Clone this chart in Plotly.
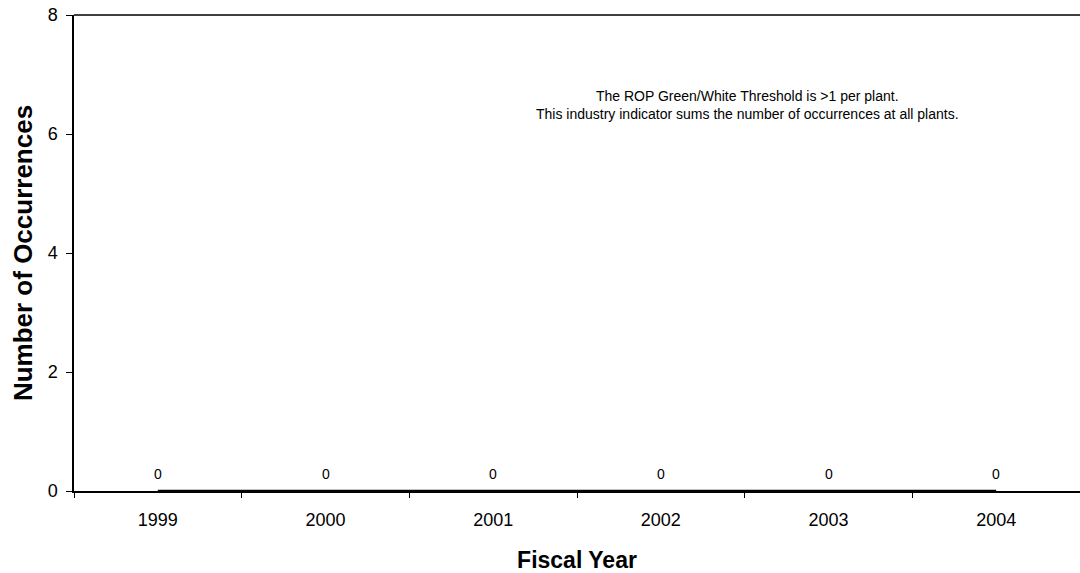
import plotly.graph_objects as go

years = ["1999", "2000", "2001", "2002", "2003", "2004"]
occurrences = [0, 0, 0, 0, 0, 0]
y_ticks = [0, 2, 4, 6, 8]
note_lines = ["The ROP Green/White Threshold is >1 per plant.",
              "This industry indicator sums the number of occurrences at all plants."]

FONT = "Liberation Sans, Arial"

fig = go.Figure()
fig.add_trace(go.Scatter(
    x=years, y=occurrences, mode="lines",
    line=dict(color="black", width=2.5), cliponaxis=False, showlegend=False,
))
for i, v in enumerate(occurrences):
    fig.add_annotation(x=i, y=v, text=str(v), showarrow=False, yshift=17,
                       font=dict(family=FONT, size=14, color="black"))

fig.add_annotation(
    xref="paper", yref="paper", x=0.669, y=0.81, xanchor="center", yanchor="middle",
    text="<br>".join(note_lines), showarrow=False,
    font=dict(family=FONT, size=14, color="black"),
)
fig.add_shape(type="line", xref="paper", yref="paper", x0=0, x1=1, y0=1, y1=1,
              line=dict(color="black", width=1.5))

fig.update_layout(
    width=1080, height=573,
    margin=dict(l=74, r=0, t=15, b=82),
    paper_bgcolor="white", plot_bgcolor="white",
    font=dict(family=FONT, color="black", size=18),
    xaxis=dict(
        type="category", range=[-0.5, 5.5], tickson="boundaries",
        ticks="outside", ticklen=5, tickcolor="black", showgrid=False,
        showline=True, linecolor="black", linewidth=1.5, zeroline=False,
        tickfont=dict(size=18), ticklabelstandoff=12,
        title=dict(text="<b>Fiscal Year</b>", font=dict(size=23), standoff=23),
    ),
    yaxis=dict(
        range=[0, 8], tickvals=y_ticks, ticks="outside", ticklen=6, tickcolor="black",
        showgrid=False, showline=True, linecolor="black", linewidth=1.5, zeroline=False,
        tickfont=dict(size=18), ticklabelstandoff=5,
        title=dict(text="<b>Number of Occurrences</b>", font=dict(size=26), standoff=8),
    ),
)

fig.write_html("out.html", post_script="document.body.style.margin='0';",
               config={"displayModeBar": False})
